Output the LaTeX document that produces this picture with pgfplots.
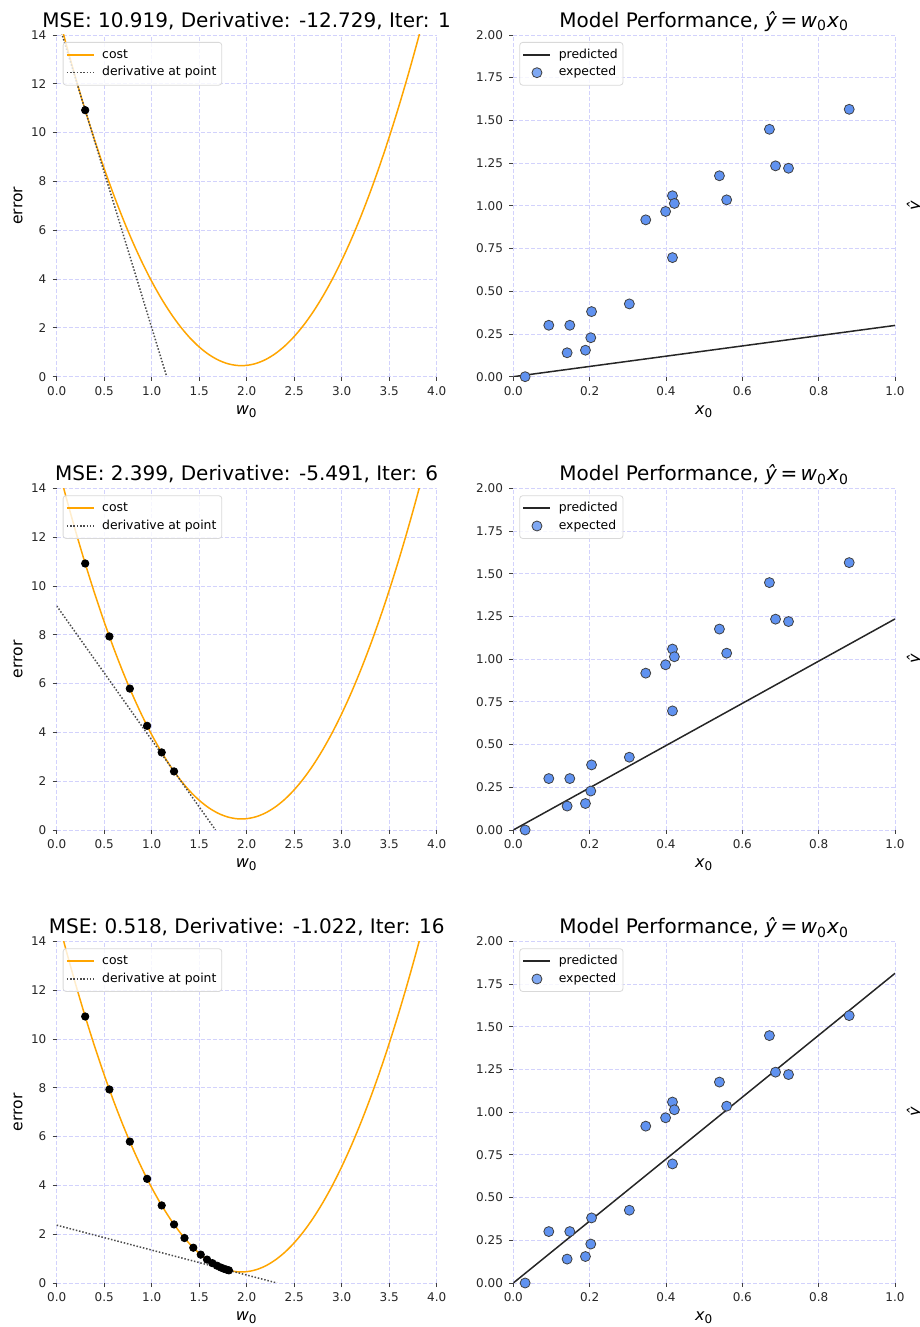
\documentclass[border=0pt]{standalone}
\usepackage{fontspec}
\setmainfont{DejaVu Sans}[ItalicFont={DejaVu Sans Oblique}]
\usepackage{pgfplots}
\usepackage{pgfplotstable}
\pgfplotsset{compat=1.18}

\definecolor{mplorange}{RGB}{255,165,0}
\definecolor{gridc}{RGB}{210,210,252}
\definecolor{dotblue}{RGB}{96,146,240}

\pgfplotstableread{
w c
0.0 15.086
0.1 13.620
0.2 12.231
0.3 10.919
0.4 9.685
0.5 8.528
0.6 7.449
0.7 6.447
0.8 5.522
0.9 4.675
1.0 3.905
1.1 3.213
1.2 2.598
1.3 2.060
1.4 1.600
1.5 1.217
1.6 0.912
1.7 0.684
1.8 0.533
1.9 0.460
2.0 0.464
2.1 0.545
2.2 0.704
2.3 0.941
2.4 1.255
2.5 1.646
2.6 2.114
2.7 2.660
2.8 3.284
2.9 3.984
3.0 4.763
3.1 5.618
3.2 6.551
3.3 7.562
3.4 8.649
3.5 9.815
3.6 11.057
3.7 12.377
3.8 13.774
3.9 15.249
4.0 16.802
}\costtab

\pgfplotstableread{
w c
0.3000 10.919
0.5546 7.929
0.7698 5.793
0.9516 4.268
1.1053 3.178
1.2353 2.399
1.3451 1.843
1.4379 1.446
1.5163 1.162
1.5826 0.959
1.6387 0.814
1.6860 0.711
1.7260 0.637
1.7599 0.584
1.7885 0.546
1.8126 0.518
}\steptab

\pgfplotstableread{
x y
0.031 0.000
0.093 0.301
0.148 0.301
0.141 0.140
0.189 0.155
0.203 0.228
0.205 0.381
0.304 0.426
0.347 0.918
0.399 0.967
0.417 1.059
0.422 1.014
0.417 0.697
0.540 1.176
0.559 1.035
0.671 1.448
0.687 1.234
0.721 1.220
0.880 1.565
}\scattab

\pgfplotsset{
  base/.style={
    scale only axis,
    axis x line*=bottom, axis y line*=left,
    axis line style={draw=none,-},
    tick align=outside,
    major tick length=2pt,
    tick style={black!75, line width=0.4pt},
    grid=major,
    grid style={gridc, line width=0.4pt, dash pattern=on 2pt off 1pt},
    ticklabel style={font=\fontsize{6}{7}\selectfont, text=black!85},
    /pgf/number format/assume math mode=true,
    xticklabel style={anchor=north, inner sep=0pt, yshift=-2.65pt},
    yticklabel style={anchor=east, inner sep=0pt, xshift=-3pt},
    title style={font=\fontsize{10}{12}\selectfont, at={(axis description cs:0.5,1)}, anchor=base, yshift=-2.15pt},
    xlabel style={font=\fontsize{8}{9}\selectfont, at={(axis description cs:0.5,0)}, anchor=base, yshift=-18.8pt},
    ylabel style={font=\fontsize{7.8}{9}\selectfont, at={(axis description cs:-0.1018,0.5)}, anchor=center, rotate=0},
    legend cell align=left,
    legend image code/.code={\draw[mark repeat=2,mark phase=2,##1] plot coordinates {(0pt,0pt) (6.75pt,0pt) (13.5pt,0pt)};},
    legend style={at={(axis description cs:0,1)}, anchor=north west, xshift=3pt, yshift=-3.5pt,
      draw=black!15, line width=0.4pt, rounded corners=1.5pt, fill=white, fill opacity=0.8, text opacity=1,
      font=\fontsize{6.2}{7}\selectfont, inner xsep=1.5pt, inner ysep=1.8pt, row sep=0pt,
      nodes={inner sep=1.2pt, text height=4.9pt, text depth=1.6pt},
      /tikz/every odd column/.append style={column sep=2.6pt}},
  },
  costaxis/.style={base, width=190pt, height=170.85pt,
    xmin=0, xmax=4, ymin=0, ymax=14,
    xtick={0,0.5,1,1.5,2,2.5,3,3.5,4}, ytick={0,2,4,6,8,10,12,14},
    xticklabel style={/pgf/number format/.cd, fixed, fixed zerofill, precision=1},
    xlabel={\textit{w}\textsubscript{0}}, ylabel={error}},
  perfaxis/.style={base, width=190.85pt, height=170.85pt,
    xmin=0, xmax=1, ymin=0, ymax=2,
    xtick={0,0.2,0.4,0.6,0.8,1}, ytick={0,0.25,0.5,0.75,1,1.25,1.5,1.75,2},
    xticklabel style={/pgf/number format/.cd, fixed, fixed zerofill, precision=1},
    yticklabel style={/pgf/number format/.cd, fixed, fixed zerofill, precision=2},
    xlabel={\textit{x}\textsubscript{0}},
    title={Model Performance, \textit{ŷ}\,=\,\textit{w}\textsubscript{0}\textit{x}\textsubscript{0}},
    after end axis/.code={\node[rotate=90, anchor=center, font=\fontsize{8}{9}\selectfont] at (rel axis cs:1.0524,0.5) {\textit{ŷ}};}},
  costline/.style={mplorange, line width=0.75pt, smooth},
  tanline/.style={black!70, line width=0.75pt, dash pattern=on 0.75pt off 0.9pt},
  stepdots/.style={forget plot, only marks, mark=*, mark size=1.85pt, black},
  scat/.style={only marks, mark=*, mark size=2.5pt, mark options={fill=dotblue, draw=black!75, line width=0.4pt}},
  predline/.style={black!85, line width=0.75pt},
}

\begin{document}
\begin{tikzpicture}
\useasboundingbox (0,0) rectangle (460pt,663.5pt);

% ---------- row 1 ----------
\begin{axis}[costaxis, at={(28.35pt,475.15pt)}, anchor=south west,
  title={MSE: 10.919, Derivative: -12.729, Iter: 1}]
\addplot[costline] table[x=w,y=c] {\costtab};
\addlegendentry{cost}
\addplot[tanline] coordinates {(0,14.738) (1.158,0)};
\addlegendentry{derivative at point}
\addplot[stepdots, skip coords between index={1}{16}] table[x=w,y=c] {\steptab};
\end{axis}

\begin{axis}[perfaxis, at={(256.65pt,475.15pt)}, anchor=south west]
\addplot[scat, forget plot] table[x=x,y=y] {\scattab};
\addplot[predline] coordinates {(0,0) (1,0.300)};
\addlegendentry{predicted}
\addlegendimage{scat}
\addlegendentry{expected}
\end{axis}

% ---------- row 2 ----------
\begin{axis}[costaxis, at={(28.35pt,248.5pt)}, anchor=south west,
  title={MSE: 2.399, Derivative: -5.491, Iter: 6}]
\addplot[costline] table[x=w,y=c] {\costtab};
\addlegendentry{cost}
\addplot[tanline] coordinates {(0,9.180) (1.672,0)};
\addlegendentry{derivative at point}
\addplot[stepdots, skip coords between index={6}{16}] table[x=w,y=c] {\steptab};
\end{axis}

\begin{axis}[perfaxis, at={(256.65pt,248.5pt)}, anchor=south west]
\addplot[scat, forget plot] table[x=x,y=y] {\scattab};
\addplot[predline] coordinates {(0,0) (1,1.2353)};
\addlegendentry{predicted}
\addlegendimage{scat}
\addlegendentry{expected}
\end{axis}

% ---------- row 3 ----------
\begin{axis}[costaxis, at={(28.35pt,22pt)}, anchor=south west,
  title={MSE: 0.518, Derivative: -1.022, Iter: 16}]
\addplot[costline] table[x=w,y=c] {\costtab};
\addlegendentry{cost}
\addplot[tanline] coordinates {(0,2.370) (2.319,0)};
\addlegendentry{derivative at point}
\addplot[stepdots] table[x=w,y=c] {\steptab};
\end{axis}

\begin{axis}[perfaxis, at={(256.65pt,22pt)}, anchor=south west]
\addplot[scat, forget plot] table[x=x,y=y] {\scattab};
\addplot[predline] coordinates {(0,0) (1,1.8126)};
\addlegendentry{predicted}
\addlegendimage{scat}
\addlegendentry{expected}
\end{axis}
\end{tikzpicture}
\end{document}
